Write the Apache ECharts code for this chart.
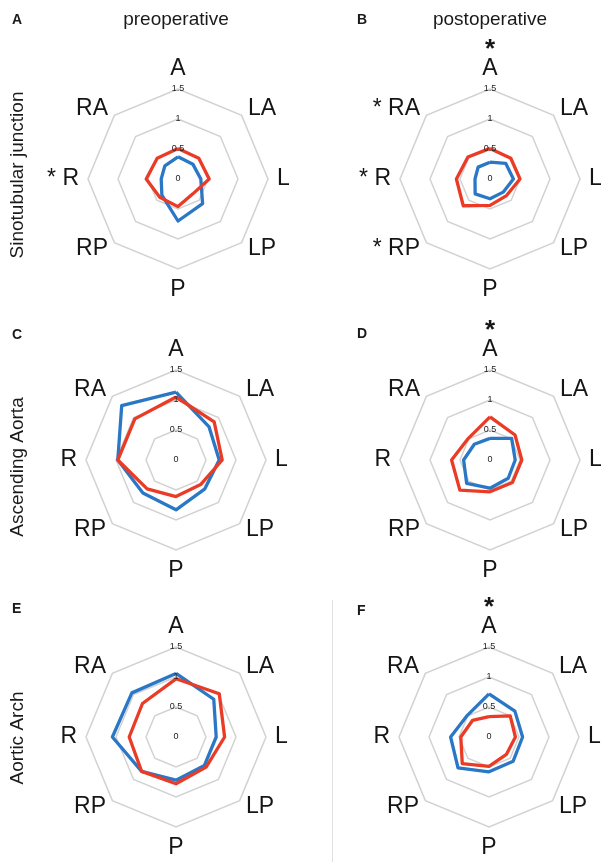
<!DOCTYPE html>
<html>
<head>
<meta charset="UTF-8">
<title>radar panels</title>
<style>
body {
    margin: 0;
    padding: 0;
    background: #fff;
}
#main {
    width: 601px;
    height: 862px;
}
</style>
</head>
<body>
<div id="main"></div>
<script src="https://cdn.jsdelivr.net/npm/echarts@6/dist/echarts.min.js"></script>
<script>
// axes clockwise from the top
var axes = ['A', 'LA', 'L', 'LP', 'P', 'RP', 'R', 'RA'];
var ticks = [0, 0.5, 1, 1.5];

// sinotubular junction
var stjPreBlue  = [0.37, 0.35, 0.38, 0.58, 0.70, 0.38, 0.28, 0.31];
var stjPreRed   = [0.51, 0.49, 0.52, 0.35, 0.46, 0.43, 0.53, 0.49];
var stjPostBlue = [0.28, 0.37, 0.39, 0.31, 0.33, 0.35, 0.25, 0.28];
var stjPostRed  = [0.51, 0.49, 0.50, 0.39, 0.44, 0.63, 0.56, 0.52];
// ascending aorta
var ascPreBlue  = [1.13, 0.78, 0.72, 0.68, 0.83, 0.78, 0.97, 1.28];
var ascPreRed   = [1.05, 0.90, 0.77, 0.58, 0.61, 0.68, 0.97, 0.97];
var ascPostBlue = [0.36, 0.51, 0.42, 0.43, 0.47, 0.55, 0.44, 0.37];
var ascPostRed  = [0.72, 0.59, 0.53, 0.53, 0.53, 0.71, 0.64, 0.51];
// aortic arch
var archPreBlue  = [1.06, 0.89, 0.67, 0.67, 0.72, 0.81, 1.06, 1.04];
var archPreRed   = [0.97, 1.02, 0.81, 0.71, 0.78, 0.81, 0.78, 0.79];
var archPostBlue = [0.72, 0.61, 0.56, 0.57, 0.58, 0.73, 0.64, 0.51];
var archPostRed  = [0.34, 0.50, 0.44, 0.41, 0.49, 0.63, 0.47, 0.39];

// axes marked with a star in each panel
var starsA = ['R'];
var starsB = ['A', 'RA', 'R', 'RP'];
var starsD = ['A'];
var starsF = ['A'];

var font = '"Liberation Sans", Arial, sans-serif';
var blue = '#2a77c6';
var red = '#ea3b26';

var panels = [
    {center: [178, 179], blue: stjPreBlue,   red: stjPreRed,   stars: starsA},
    {center: [490, 179], blue: stjPostBlue,  red: stjPostRed,  stars: starsB},
    {center: [176, 460], blue: ascPreBlue,   red: ascPreRed,   stars: []},
    {center: [490, 460], blue: ascPostBlue,  red: ascPostRed,  stars: starsD},
    {center: [176, 737], blue: archPreBlue,  red: archPreRed,  stars: []},
    {center: [489, 737], blue: archPostBlue, red: archPostRed, stars: starsF}
];

// echarts lays the indicators out counter-clockwise
var order = [0, 7, 6, 5, 4, 3, 2, 1];

function axisTitle(name, stars) {
    if (stars.indexOf(name) < 0) return name;
    if (name === 'A') return '{st|*}\n' + name;
    return '* ' + name;
}

var radars = [];
var series = [];
var maxVal = ticks[ticks.length - 1];

panels.forEach(function (p, n) {
    radars.push({
        center: p.center,
        radius: 90,
        startAngle: 90,
        shape: 'polygon',
        splitNumber: ticks.length - 1,
        indicator: order.map(function (i) {
            return {name: axisTitle(axes[i], p.stars), min: 0, max: maxVal};
        }),
        axisName: {
            color: '#151515',
            fontSize: 23,
            fontFamily: font,
            rich: {
                st: {fontSize: 26, fontWeight: 'bold', lineHeight: 14, color: '#151515', fontFamily: font}
            }
        },
        axisNameGap: 9,
        axisLine: {show: false},
        axisTick: {show: false},
        axisLabel: {show: false},
        splitLine: {lineStyle: {color: '#d2d2d2', width: 1.5}},
        splitArea: {show: false}
    });
    series.push({
        type: 'radar',
        radarIndex: n,
        symbol: 'none',
        data: [
            {value: order.map(function (i) { return p.blue[i]; }), lineStyle: {color: blue, width: 3.3}},
            {value: order.map(function (i) { return p.red[i]; }), lineStyle: {color: red, width: 3.3}}
        ]
    });
});

// second set of radars only for the tick numbers, drawn above the lines
panels.forEach(function (p) {
    radars.push({
        center: p.center,
        radius: 90,
        startAngle: 90,
        shape: 'polygon',
        splitNumber: ticks.length - 1,
        z: 5,
        indicator: order.map(function (i, k) {
            var ind = {name: '', min: 0, max: maxVal};
            if (k === 0) ind.axisLabel = {show: true};
            return ind;
        }),
        axisName: {show: false},
        axisLine: {show: false},
        axisTick: {show: false},
        splitLine: {show: false},
        splitArea: {show: false},
        axisLabel: {
            show: false,
            fontSize: 9,
            color: '#222',
            fontFamily: font,
            margin: 0,
            align: 'center',
            verticalAlign: 'middle'
        }
    });
});

function txt(x, y, s, size, bold, rot) {
    return {
        type: 'text',
        x: x,
        y: y,
        rotation: rot || 0,
        style: {
            text: s,
            fill: '#1a1a1a',
            font: (bold ? 'bold ' : '') + size + 'px ' + font,
            align: bold ? 'left' : 'center',
            verticalAlign: 'middle'
        }
    };
}

var chart = echarts.init(document.getElementById('main'));
chart.setOption({
    animation: false,
    backgroundColor: '#fff',
    radar: radars,
    series: series,
    graphic: [
        txt(176, 20, 'preoperative', 19),
        txt(490, 20, 'postoperative', 19),
        txt(12, 20, 'A', 14, true),
        txt(357, 20, 'B', 14, true),
        txt(12, 335, 'C', 14, true),
        txt(357, 334, 'D', 14, true),
        txt(12, 609, 'E', 14, true),
        txt(357, 611, 'F', 14, true),
        txt(18, 175, 'Sinotubular junction', 19, false, Math.PI / 2),
        txt(18, 467, 'Ascending Aorta', 19, false, Math.PI / 2),
        txt(18, 738, 'Aortic Arch', 19, false, Math.PI / 2),
        {
            type: 'line',
            shape: {x1: 332.5, y1: 600, x2: 332.5, y2: 862},
            style: {stroke: '#e2e2e2', lineWidth: 1}
        }
    ]
});
</script>
</body>
</html>
